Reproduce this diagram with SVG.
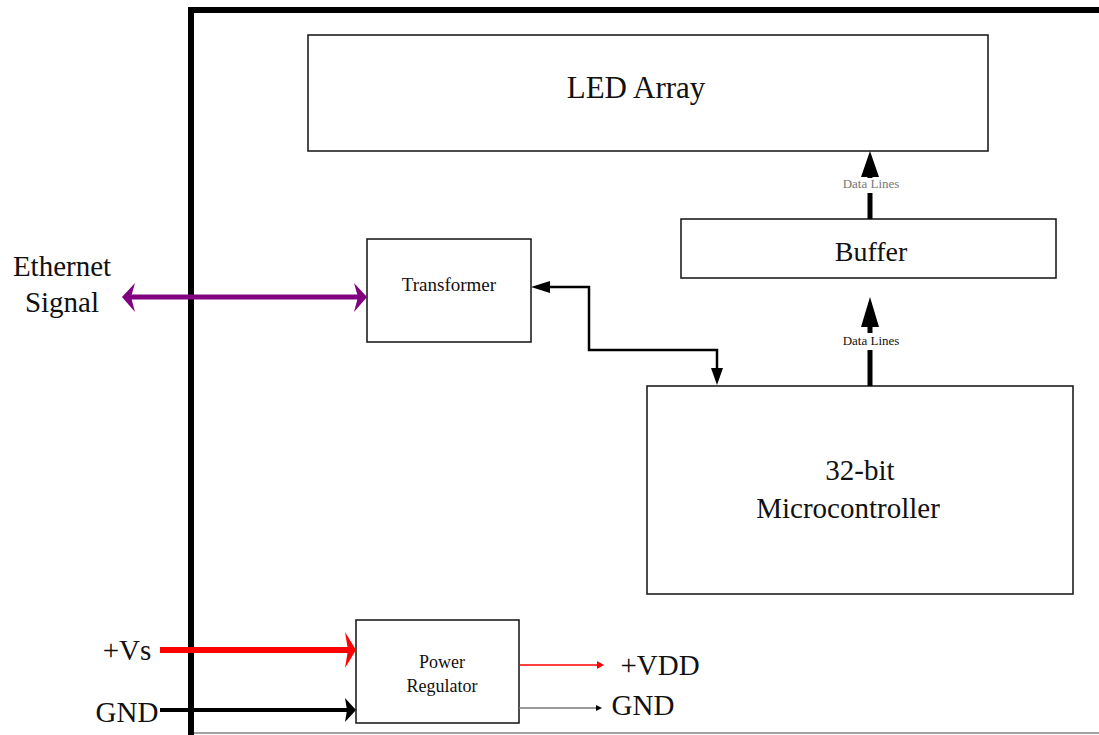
<svg xmlns="http://www.w3.org/2000/svg" width="1099" height="735" viewBox="0 0 1099 735">
<style>
.box{fill:#fff;stroke:#111;stroke-width:1.5}
.t{font-family:"Liberation Serif",serif;fill:#111;text-anchor:middle}
.big{font-size:29px}
</style>
<rect width="1099" height="735" fill="#fff"/>
<g id="frame">
<path d="M191,735V10H1099" fill="none" stroke="#000" stroke-width="6"/>
<line x1="194" y1="733" x2="1099" y2="733" stroke="#444" stroke-width="1"/>
</g>
<g id="led"><rect class="box" x="308" y="35" width="680" height="116" stroke-width="2"/><text class="t" x="636" y="98" font-size="31">LED Array</text></g>
<g id="buffer"><rect class="box" x="681" y="219" width="375" height="59"/><text class="t" x="871" y="261" font-size="28">Buffer</text></g>
<g id="transformer"><rect class="box" x="367" y="239" width="164" height="103"/><text class="t" x="449" y="291" font-size="19">Transformer</text></g>
<g id="mcu"><rect class="box" x="647" y="386" width="426" height="208"/><text class="t big" x="860" y="480">32-bit</text><text class="t big" x="848" y="518">Microcontroller</text></g>
<g id="power"><rect class="box" x="356" y="620" width="163" height="103"/><text class="t" x="442" y="668" font-size="18">Power</text><text class="t" x="442" y="692" font-size="18">Regulator</text></g>
<g id="labels">
<text class="t big" x="62" y="276">Ethernet</text>
<text class="t big" x="62" y="312">Signal</text>
<text class="t big" x="127" y="660">+Vs</text>
<text class="t big" x="127" y="722">GND</text>
<text class="t big" x="660" y="675">+VDD</text>
<text class="t big" x="643" y="715">GND</text>
<text class="t" x="871" y="188" font-size="13" style="fill:#777">Data Lines</text>
<text class="t" x="871" y="345" font-size="13">Data Lines</text>
</g>
<g id="connectors">
<line x1="128" y1="297" x2="361" y2="297" stroke="#800080" stroke-width="5"/>
<path d="M122,297L135,283L131,297L135,312z" fill="#800080"/>
<path d="M367,297L354,283L358,297L354,312z" fill="#800080"/>
<path d="M717,370V350H589V287H548" fill="none" stroke="#000" stroke-width="2.5"/>
<path d="M531,287L550,281L550,293z" fill="#000"/>
<path d="M717,385L711,368L723,368z" fill="#000"/>
<line x1="870" y1="219" x2="870" y2="193" stroke="#000" stroke-width="5"/>
<line x1="870" y1="175" x2="870" y2="178" stroke="#000" stroke-width="5"/>
<path d="M870,151L861,177L879,177z" fill="#000"/>
<line x1="870" y1="386" x2="870" y2="350" stroke="#000" stroke-width="5"/>
<line x1="870" y1="325" x2="870" y2="333" stroke="#000" stroke-width="5"/>
<path d="M870,297L861,327L879,327z" fill="#000"/>
<line x1="160" y1="650" x2="348" y2="650" stroke="#f00" stroke-width="6"/>
<path d="M356,650L345,632L348,650L345,668z" fill="#f00"/>
<line x1="160" y1="710" x2="348" y2="710" stroke="#000" stroke-width="4"/>
<path d="M356,710L345,698L347,710L345,722z" fill="#000"/>
<line x1="519" y1="665" x2="599" y2="665" stroke="#f00" stroke-width="1.5"/>
<path d="M604,665L597,661L597,669z" fill="#f00"/>
<line x1="519" y1="708" x2="597" y2="708" stroke="#777" stroke-width="1.5"/>
<path d="M602,708L596,705L596,711z" fill="#000"/>
</g>
</svg>
